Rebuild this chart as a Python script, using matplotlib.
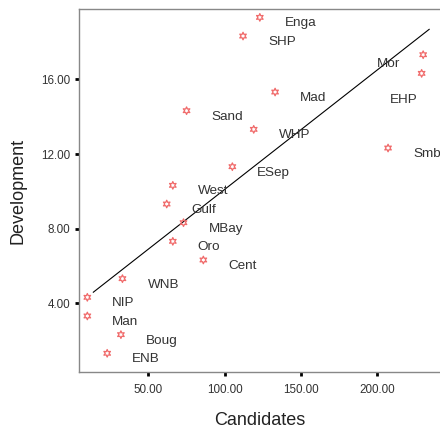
import numpy as np
import matplotlib
matplotlib.use('Agg')
import matplotlib.pyplot as plt
from matplotlib.transforms import offset_copy

plt.rcParams['font.family'] = ['Liberation Sans', 'DejaVu Sans']

# province data
names = ['Enga', 'SHP', 'Mor', 'EHP', 'Mad', 'Sand', 'WHP', 'Smb', 'ESep', 'West',
         'Gulf', 'MBay', 'Oro', 'Cent', 'WNB', 'NIP', 'Man', 'Boug', 'ENB']
candidates = [127, 116, 234, 233, 137, 79, 123, 211, 109, 70,
              66, 77, 70, 90, 37, 14, 14, 36, 27]
development = [19, 18, 17, 16, 15, 14, 13, 12, 11, 10,
               9, 8, 7, 6, 5, 4, 3, 2, 1]

x_ticks = [50, 100, 150, 200]
y_ticks = [4, 8, 12, 16]

# label offsets in pixels (default to the right, two moved near the edge)
label_offset = {'Mor': (-52, -3), 'EHP': (-38, -21)}

x = np.array(candidates, dtype=float)
y = np.array(development, dtype=float)

fig = plt.figure(figsize=(4.4, 4.29), dpi=100)
ax = fig.add_axes([0.1795, 0.1329, 0.8205, 0.8461])

# the old chart draws its markers a little up and left of the point
mk_trans = offset_copy(ax.transData, fig=fig, x=-6, y=6, units='dots')
ax.scatter(x, y, marker=(6, 1, 0), s=30, facecolors='none', edgecolors='#f06a6a',
           linewidths=0.9, zorder=3, transform=mk_trans)

for n, xi, yi in zip(names, x, y):
    dx, dy = label_offset.get(n, (19, 0))
    ax.annotate(n, (xi, yi), xytext=(dx, dy), textcoords='offset pixels',
                ha='left', va='center', fontsize=9.7, color='#333333')

# linear fit line
b, a = np.polyfit(x, y, 1)
xl = np.linspace(x.min(), x.max(), 50)
ax.plot(xl, a + b * xl, color='black', linewidth=0.8)

ax.set_xlim(4.6, 241.1)
ax.set_ylim(0.32, 19.77)
ax.set_xticks(x_ticks)
ax.set_xticklabels(['%.2f' % v for v in x_ticks])
ax.set_yticks(y_ticks)
ax.set_yticklabels(['%.2f' % v for v in y_ticks])
ax.tick_params(direction='out', length=3, width=2, labelsize=8.4, colors='black',
               labelcolor='#333333')
ax.tick_params(axis='x', pad=6)

for s in ['left', 'bottom', 'top']:
    ax.spines[s].set_color('#888888')
    ax.spines[s].set_linewidth(1)
ax.spines['right'].set_visible(False)

ax.set_xlabel('Candidates', fontsize=13, color='#222222', labelpad=11)
ax.set_ylabel('Development', fontsize=13, color='#222222', labelpad=10)

fig.savefig('out.png', dpi=100)
